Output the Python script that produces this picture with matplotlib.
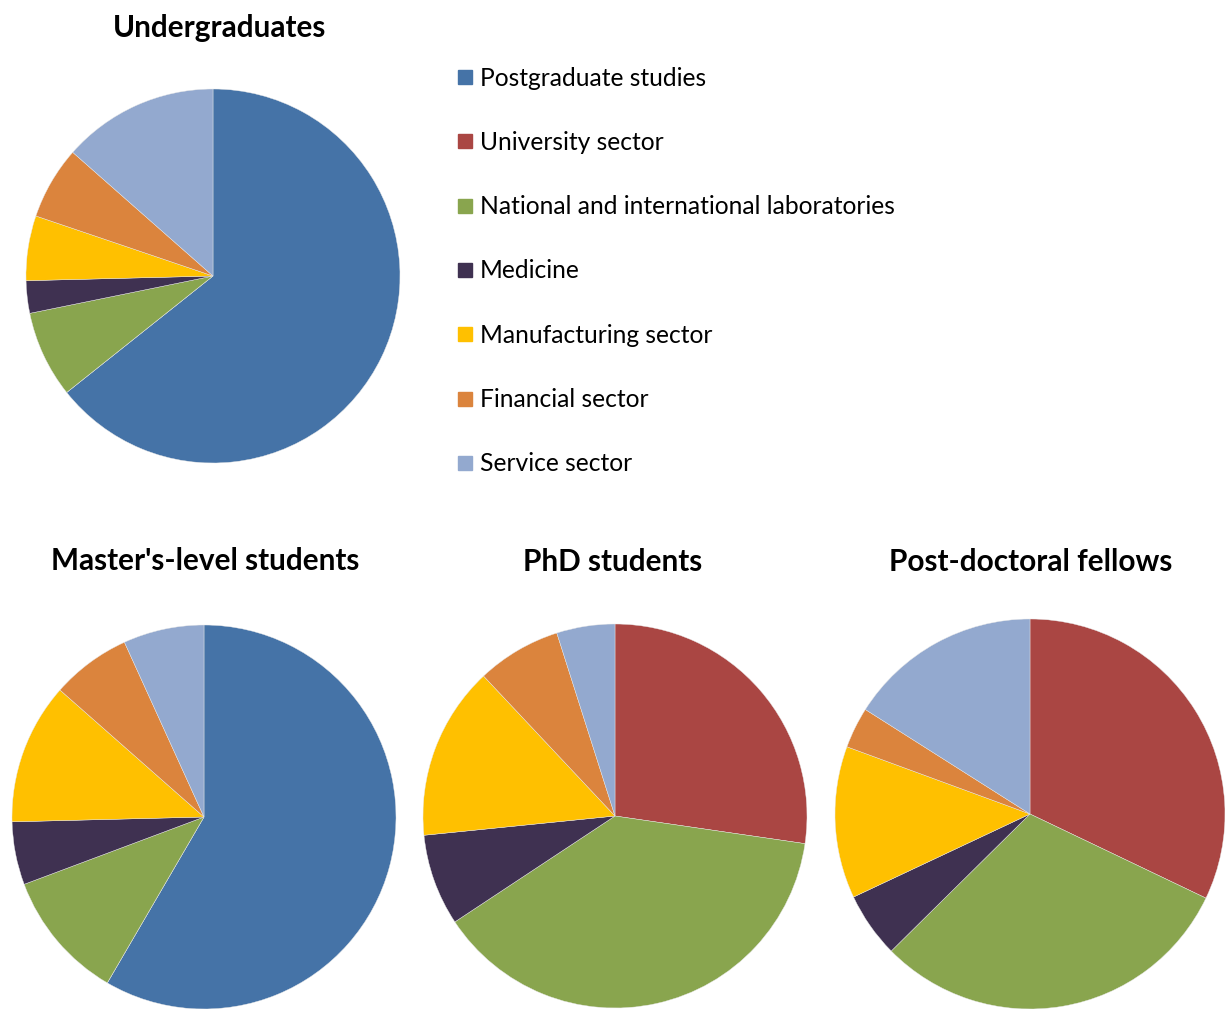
import matplotlib
matplotlib.use('Agg')
import matplotlib.pyplot as plt
from matplotlib.patches import Rectangle

plt.rcParams['font.family'] = ['Lato', 'DejaVu Sans']

#-------------------------------------
# Data (percent of each group, clockwise from 12 o'clock)
#-------------------------------------
categories = ['Postgraduate studies', 'University sector',
              'National and international laboratories', 'Medicine',
              'Manufacturing sector', 'Financial sector', 'Service sector']
colors = ['#4573A7', '#AA4643', '#89A54E', '#3F3151',
          '#FFC000', '#DB843D', '#93A9CF']

undergrad = [64.3, 0.0, 7.5, 2.8, 5.6, 6.3, 13.5]
masters = [58.4, 0.0, 10.9, 5.3, 11.9, 6.7, 6.8]
phd = [0.0, 27.3, 38.4, 7.7, 14.6, 7.1, 4.9]
postdoc = [0.0, 32.1, 30.5, 5.4, 12.6, 3.4, 16.0]

W, H = 1225, 1009
fig = plt.figure(figsize=(W / 100, H / 100), dpi=100)


def pie_axes(cx, cy, r):
    # pixel centre / radius -> figure fraction axes
    return fig.add_axes([(cx - r) / W, (H - cy - r) / H, 2 * r / W, 2 * r / H])


#-------------------------------------
# Pies
#-------------------------------------
pies = [
    (undergrad, (213, 276, 187), 'Undergraduates', (220, 28)),
    (masters, (204, 817, 192), "Master's-level students", (205, 561)),
    (phd, (615, 816, 192), 'PhD students', (613, 562)),
    (postdoc, (1030, 814, 195), 'Post-doctoral fellows', (1031, 562)),
]

for vals, (cx, cy, r), title, (tx, ty) in pies:
    ax = pie_axes(cx, cy, r)
    ax.pie(vals, colors=colors, startangle=90, counterclock=False,
           wedgeprops=dict(linewidth=0.3, edgecolor='#e8e8e8'), radius=1.0)
    ax.set_xlim(-1, 1)
    ax.set_ylim(-1, 1)
    ax.set_aspect('equal')
    ax.axis('off')
    fig.text(tx / W, 1 - ty / H, title, ha='center', va='center',
             fontsize=21.4, fontweight='bold')

#-------------------------------------
# Legend
#-------------------------------------
y0, dy = 77, 64.3
for i, (lab, c) in enumerate(zip(categories, colors)):
    y = y0 + i * dy
    fig.add_artist(Rectangle(((458) / W, 1 - (y + 7) / H), 14 / W, 14 / H,
                             transform=fig.transFigure, color=c))
    fig.text(480 / W, 1 - (y + 1) / H, lab, ha='left', va='center', fontsize=17.7)

fig.savefig('out.png', dpi=100)
